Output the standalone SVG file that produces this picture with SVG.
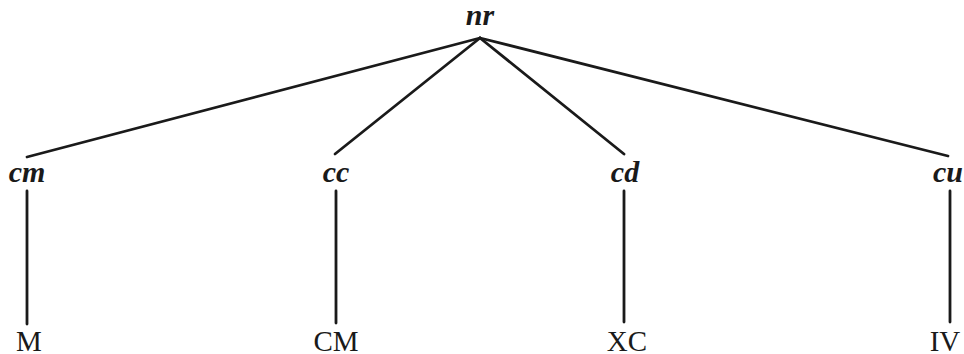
<svg xmlns="http://www.w3.org/2000/svg" width="964" height="354" viewBox="0 0 964 354">
<style>
.n{font-family:"Liberation Serif","Times New Roman",serif;font-size:30px;font-weight:bold;font-style:italic;fill:#1a1a1a;text-anchor:middle}
.l{font-family:"Liberation Serif","Times New Roman",serif;font-size:29px;fill:#1a1a1a;text-anchor:middle}
.e{stroke:#1a1a1a;stroke-width:2.8;fill:none;stroke-linecap:round}
</style>
<rect width="964" height="354" fill="#ffffff"/>
<g id="connectors">
<line class="e" x1="480" y1="38" x2="27" y2="157"/>
<line class="e" x1="480" y1="38" x2="335" y2="154"/>
<line class="e" x1="480" y1="38" x2="624" y2="154"/>
<line class="e" x1="480" y1="38" x2="948" y2="156"/>
<line class="e" x1="27" y1="191" x2="27" y2="324"/>
<line class="e" x1="336" y1="191" x2="336" y2="323"/>
<line class="e" x1="624" y1="191" x2="624" y2="322"/>
<line class="e" x1="950" y1="191" x2="950" y2="322"/>
</g>
<g id="nr"><text class="n" x="480" y="25">nr</text></g>
<g id="cm"><text class="n" x="27" y="182">cm</text></g>
<g id="cc"><text class="n" x="336" y="182">cc</text></g>
<g id="cd"><text class="n" x="625" y="182">cd</text></g>
<g id="cu"><text class="n" x="948" y="182">cu</text></g>
<g id="M"><text class="l" x="29" y="351">M</text></g>
<g id="CM"><text class="l" x="336" y="351">CM</text></g>
<g id="XC"><text class="l" x="627" y="351">XC</text></g>
<g id="IV"><text class="l" x="945" y="351">IV</text></g>
</svg>
